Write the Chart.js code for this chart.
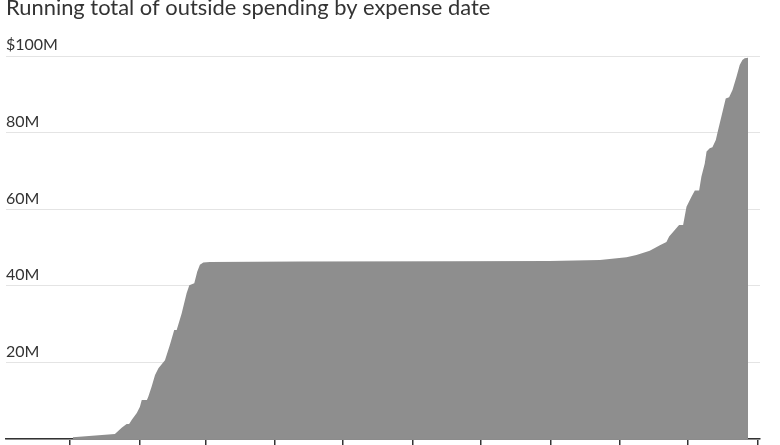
<!DOCTYPE html>
<html>
<head>
<meta charset="utf-8">
<script src="https://cdn.jsdelivr.net/npm/chart.js@4"></script>
<style>
  html, body { margin: 0; padding: 0; background: #fff; overflow: hidden; }
  body { width: 780px; height: 445px; position: relative; }
  #c { position: absolute; left: 0; top: -10px; }
</style>
</head>
<body>
<canvas id="c" width="780" height="470"></canvas>
<script>
// Days since Jan 1, 2024
const monthStarts = [0, 31, 60, 91, 121, 152, 182, 213, 244, 274, 305];
const days = [1.2, 1.2, 19.9, 22.9, 25.1, 26.2, 27.4, 29.6, 31.0, 31.8, 34.1, 34.7, 36.2, 37.7, 39.2, 42.1, 44.3, 46.2, 47.3, 49.5, 51.7, 52.9, 55.1, 56.4, 57.6, 59.1, 62, 102, 168.5, 212.8, 235, 246.8, 251.2, 257.1, 261.6, 264.5, 265.7, 268.2, 270.1, 271.9, 273.4, 275.6, 277.1, 279.0, 280.0, 281.5, 282.3, 283.7, 284.9, 286.4, 287.4, 289.6, 290.8, 292.3, 293.8, 295.6, 297.0, 298.2, 299.2, 300.7];
// Running total, $ millions
const totals = [0, 0.44, 1.3, 2.95, 3.9, 3.9, 5.0, 6.8, 8.4, 10.2, 10.2, 11.05, 13.7, 16.7, 18.5, 20.6, 24.6, 28.5, 28.5, 32.8, 38.1, 40.2, 40.7, 43.7, 45.5, 46.1, 46.25, 46.4, 46.45, 46.5, 46.8, 47.5, 48.1, 49.2, 50.6, 51.5, 52.9, 54.6, 55.9, 55.9, 60.7, 63.3, 64.9, 64.9, 68.5, 72.0, 75.1, 76.0, 76.2, 78.1, 80.7, 86.0, 89.0, 89.3, 91.2, 94.7, 97.7, 99.0, 99.5, 99.6];
const yTicks = [0, 20, 40, 60, 80, 100];

const points = days.map((d, i) => ({ x: d, y: totals[i] }));

new Chart(document.getElementById('c'), {
  type: 'line',
  data: {
    datasets: [{
      data: points,
      fill: 'origin',
      backgroundColor: 'rgb(142,142,142)',
      borderWidth: 0,
      pointRadius: 0,
      tension: 0
    }]
  },
  options: {
    responsive: false,
    animation: false,
    events: [],
    layout: { padding: { top: 0, left: 6, right: 20, bottom: 14 } },
    plugins: {
      legend: { display: false },
      tooltip: { enabled: false },
      title: {
        display: true,
        text: 'Running total of outside spending by expense date',
        align: 'start',
        color: '#333',
        font: { family: 'Lato', size: 21.9, weight: 'normal' },
        padding: { top: 4.3, bottom: 35.7 }
      }
    },
    scales: {
      x: {
        type: 'linear',
        min: -28.4,
        max: 306,
        afterBuildTicks: (axis) => { axis.ticks = monthStarts.map(v => ({ value: v })); },
        ticks: { display: false },
        grid: { drawOnChartArea: false, drawTicks: true, tickLength: 7, color: '#333', lineWidth: 1.5 },
        border: { display: true, color: '#333', width: 1.5 }
      },
      y: {
        min: 0,
        max: 100,
        afterBuildTicks: (axis) => { axis.ticks = yTicks.map(v => ({ value: v })); },
        ticks: {
          mirror: true,
          padding: 0,
          labelOffset: -11,
          color: '#333',
          font: { family: 'Lato', size: 16 },
          callback: (v) => v === 0 ? '' : (v === 100 ? '$' + v + 'M' : v + 'M')
        },
        grid: { drawTicks: false, color: '#e4e4e4', lineWidth: 1 },
        border: { display: false }
      }
    }
  }
});
</script>
</body>
</html>
